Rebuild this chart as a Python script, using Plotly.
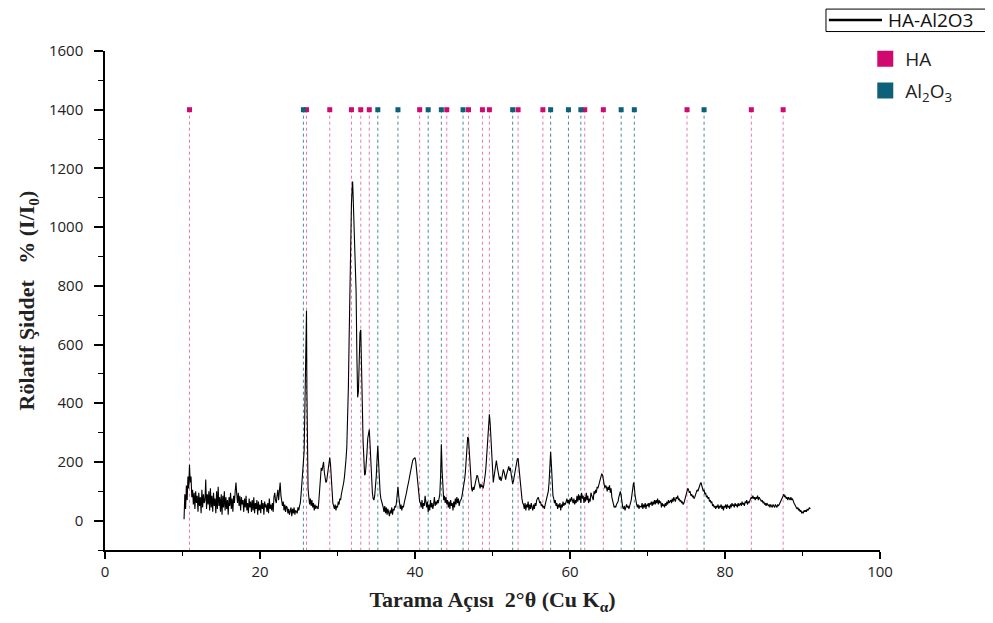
import plotly.graph_objects as go

# XRD pattern, as (2θ, intensity) pairs, by region
region_10_26 = [(10.2,5),(10.3,90),(10.4,40),(10.5,120),(10.6,70),(10.7,150),(10.8,110),(10.9,190),(11.0,130),(11.1,150),(11.2,80),(11.3,105),(11.4,55),(11.5,95),(11.6,40),(11.7,100),(11.8,60),(11.9,85),(12.0,30),(12.1,95),(12.2,50),(12.3,80),(12.4,25),(12.5,105),(12.6,45),(12.7,90),(12.8,60),(12.9,70),(13.0,140),(13.1,40),(13.2,90),(13.3,55),(13.4,100),(13.5,35),(13.6,110),(13.7,45),(13.8,85),(13.9,30),(14.0,95),(14.1,50),(14.2,75),(14.3,25),(14.4,100),(14.5,40),(14.6,115),(14.7,50),(14.8,80),(14.9,30),(15.0,90),(15.1,20),(15.2,85),(15.3,45),(15.4,100),(15.5,35),(15.6,80),(15.7,40),(15.8,70),(15.9,20),(16.0,80),(16.1,50),(16.2,95),(16.3,40),(16.4,75),(16.5,30),(16.6,85),(16.7,60),(16.8,100),(16.9,130),(17.0,90),(17.1,60),(17.2,95),(17.3,50),(17.4,85),(17.5,35),(17.6,80),(17.7,55),(17.8,70),(17.9,30),(18.0,75),(18.1,45),(18.2,85),(18.3,35),(18.4,60),(18.5,25),(18.6,75),(18.7,45),(18.8,65),(18.9,30),(19.0,70),(19.1,35),(19.2,80),(19.3,25),(19.4,60),(19.5,40),(19.6,70),(19.7,20),(19.8,65),(19.9,35),(20.0,55),(20.1,25),(20.2,70),(20.3,40),(20.4,60),(20.5,20),(20.6,65),(20.7,45),(20.8,55),(20.9,30),(21.0,60),(21.1,25),(21.2,75),(21.3,40),(21.4,55),(21.5,35),(21.6,60),(21.7,30),(21.8,80),(21.9,95),(22.0,70),(22.1,60),(22.2,85),(22.3,105),(22.4,70),(22.5,95),(22.6,130),(22.7,85),(22.8,60),(22.9,50),(23.0,65),(23.1,35),(23.2,55),(23.3,30),(23.4,50),(23.5,45),(23.6,25),(23.7,40),(23.8,20),(23.9,35),(24.0,45),(24.1,15),(24.2,40),(24.3,25),(24.4,45),(24.5,20),(24.6,35),(24.7,30),(24.8,25),(24.9,45),(25.0,35),(25.1,50),(25.2,60),(25.3,90),(25.4,140),(25.5,170),(25.6,200),(25.7,240),(25.8,380),(25.9,600),(26.0,715),(26.05,450),(26.1,220),(26.2,110)]

region_26_41 = [(26.3,80),(26.4,55),(26.5,75),(26.6,50),(26.7,70),(26.8,45),(26.9,60),(27.0,35),(27.1,55),(27.2,40),(27.3,50),(27.4,45),(27.5,40),(27.6,70),(27.7,100),(27.8,150),(27.9,180),(28.0,170),(28.1,190),(28.2,200),(28.3,165),(28.4,140),(28.5,130),(28.6,135),(28.7,160),(28.8,185),(28.9,205),(29.0,215),(29.1,190),(29.2,140),(29.3,90),(29.4,60),(29.5,50),(29.6,40),(29.7,55),(29.8,35),(29.9,50),(30.0,45),(30.1,65),(30.2,55),(30.3,75),(30.4,70),(30.5,90),(30.6,100),(30.7,110),(30.8,130),(30.9,150),(31.0,175),(31.1,210),(31.2,250),(31.3,330),(31.4,450),(31.5,620),(31.6,800),(31.7,960),(31.8,1080),(31.9,1140),(31.95,1155),(32.0,1120),(32.1,1040),(32.2,960),(32.3,930),(32.4,780),(32.5,560),(32.6,420),(32.7,440),(32.8,560),(32.9,640),(33.0,650),(33.1,560),(33.2,400),(33.3,270),(33.4,190),(33.5,155),(33.6,160),(33.7,190),(33.8,230),(33.9,280),(34.0,305),(34.1,310),(34.2,260),(34.3,190),(34.4,130),(34.5,95),(34.6,75),(34.7,70),(34.8,85),(34.9,110),(35.0,150),(35.1,210),(35.2,255),(35.3,200),(35.4,130),(35.5,95),(35.6,75),(35.7,60),(35.8,55),(35.9,45),(36.0,30),(36.1,50),(36.2,25),(36.3,45),(36.4,20),(36.5,40),(36.6,30),(36.7,15),(36.8,35),(36.9,25),(37.0,45),(37.1,20),(37.2,40),(37.3,35),(37.4,50),(37.5,45),(37.6,60),(37.7,85),(37.8,115),(37.9,85),(38.0,55),(38.1,40),(38.2,55),(38.3,35),(38.4,50),(38.5,45),(38.6,60),(38.7,70),(38.8,80),(38.9,95),(39.0,110),(39.1,120),(39.2,135),(39.3,150),(39.4,165),(39.5,180),(39.6,195),(39.7,205),(39.8,210),(39.9,215),(40.0,215),(40.1,200),(40.2,170),(40.3,130),(40.4,100),(40.5,80),(40.6,65),(40.7,60),(40.8,45),(40.9,70),(41.0,40)]

region_41_54 = [(41.1,60),(41.2,50),(41.3,85),(41.4,55),(41.5,45),(41.6,65),(41.7,30),(41.8,55),(41.9,35),(42.0,70),(42.1,45),(42.2,60),(42.3,40),(42.4,55),(42.5,80),(42.6,50),(42.7,65),(42.8,55),(42.9,70),(43.0,60),(43.1,75),(43.2,90),(43.3,150),(43.4,260),(43.5,170),(43.6,90),(43.7,70),(43.8,85),(43.9,60),(44.0,80),(44.1,55),(44.2,70),(44.3,45),(44.4,65),(44.5,40),(44.6,70),(44.7,50),(44.8,60),(44.9,35),(45.0,65),(45.1,45),(45.2,75),(45.3,55),(45.4,80),(45.5,60),(45.6,75),(45.7,50),(45.8,65),(45.9,70),(46.0,75),(46.1,90),(46.2,105),(46.3,120),(46.4,140),(46.5,165),(46.6,200),(46.7,250),(46.8,285),(46.9,280),(47.0,230),(47.1,170),(47.2,130),(47.3,110),(47.4,100),(47.5,115),(47.6,105),(47.7,120),(47.8,135),(47.9,145),(48.0,155),(48.1,150),(48.2,135),(48.3,120),(48.4,110),(48.5,125),(48.6,115),(48.7,120),(48.8,110),(48.9,125),(49.0,140),(49.1,165),(49.2,200),(49.3,250),(49.4,300),(49.5,340),(49.6,362),(49.7,330),(49.8,270),(49.9,200),(50.0,150),(50.1,130),(50.2,150),(50.3,175),(50.4,200),(50.5,205),(50.6,185),(50.7,165),(50.8,150),(50.9,140),(51.0,150),(51.1,135),(51.2,145),(51.3,160),(51.4,175),(51.5,165),(51.6,150),(51.7,140),(51.8,155),(51.9,165),(52.0,175),(52.1,185),(52.2,170),(52.3,180),(52.4,160),(52.5,140),(52.6,125),(52.7,135),(52.8,150),(52.9,165),(53.0,185),(53.1,200),(53.2,210),(53.3,212),(53.4,185),(53.5,150),(53.6,115),(53.7,90),(53.8,75),(53.9,60),(54.0,55)]

region_54_69 = [(54.1,40),(54.2,60),(54.3,35),(54.4,55),(54.5,45),(54.6,65),(54.7,35),(54.8,55),(54.9,40),(55.0,60),(55.1,45),(55.2,35),(55.3,55),(55.4,40),(55.5,60),(55.6,50),(55.7,70),(55.8,75),(55.9,80),(56.0,70),(56.1,60),(56.2,65),(56.3,50),(56.4,55),(56.5,45),(56.6,50),(56.7,40),(56.8,55),(56.9,65),(57.0,75),(57.1,85),(57.2,100),(57.3,130),(57.4,180),(57.5,235),(57.6,190),(57.7,120),(57.8,85),(57.9,75),(58.0,60),(58.1,70),(58.2,50),(58.3,60),(58.4,40),(58.5,55),(58.6,45),(58.7,60),(58.8,35),(58.9,55),(59.0,45),(59.1,65),(59.2,50),(59.3,60),(59.4,55),(59.5,65),(59.6,75),(59.7,60),(59.8,70),(59.9,55),(60.0,75),(60.1,65),(60.2,80),(60.3,70),(60.4,60),(60.5,75),(60.6,55),(60.7,70),(60.8,60),(60.9,85),(61.0,65),(61.1,90),(61.2,70),(61.3,85),(61.4,60),(61.5,95),(61.6,75),(61.7,85),(61.8,60),(61.9,80),(62.0,65),(62.1,95),(62.2,70),(62.3,85),(62.4,60),(62.5,75),(62.6,65),(62.7,95),(62.8,85),(62.9,80),(63.0,70),(63.1,100),(63.2,90),(63.3,105),(63.4,95),(63.5,115),(63.6,110),(63.7,120),(63.8,130),(63.9,145),(64.0,150),(64.1,160),(64.2,155),(64.3,140),(64.4,125),(64.5,110),(64.6,120),(64.7,115),(64.8,100),(64.9,115),(65.0,105),(65.1,120),(65.2,95),(65.3,110),(65.4,80),(65.5,65),(65.6,55),(65.7,45),(65.8,50),(65.9,45),(66.0,55),(66.1,60),(66.2,65),(66.3,80),(66.4,95),(66.5,100),(66.6,85),(66.7,60),(66.8,45),(66.9,40),(67.0,50),(67.1,35),(67.2,45),(67.3,55),(67.4,45),(67.5,50),(67.6,40),(67.7,55),(67.8,60),(67.9,70),(68.0,85),(68.1,110),(68.2,130),(68.3,115),(68.4,85),(68.5,65),(68.6,55),(68.7,45),(68.8,55),(68.9,40),(69.0,50)]

region_69_91 = [(69.2,45),(69.3,60),(69.4,40),(69.5,55),(69.6,45),(69.7,60),(69.8,40),(69.9,55),(70.0,50),(70.1,60),(70.2,45),(70.3,60),(70.4,55),(70.5,65),(70.6,50),(70.7,65),(70.8,55),(70.9,70),(71.0,55),(71.1,70),(71.2,60),(71.3,75),(71.4,55),(71.5,70),(71.6,60),(71.7,65),(71.8,45),(71.9,60),(72.0,50),(72.1,55),(72.2,45),(72.3,60),(72.4,50),(72.5,65),(72.6,55),(72.7,70),(72.8,60),(72.9,65),(73.0,70),(73.1,60),(73.2,75),(73.3,65),(73.4,80),(73.5,70),(73.6,65),(73.7,80),(73.8,75),(73.9,85),(74.0,70),(74.1,75),(74.2,65),(74.3,70),(74.4,60),(74.5,65),(74.6,55),(74.7,60),(74.8,70),(74.9,80),(75.0,90),(75.1,100),(75.2,110),(75.3,105),(75.4,95),(75.5,100),(75.6,85),(75.7,90),(75.8,80),(75.9,85),(76.0,75),(76.1,80),(76.2,90),(76.3,95),(76.4,105),(76.5,100),(76.6,110),(76.7,120),(76.8,125),(76.9,130),(77.0,120),(77.1,110),(77.2,100),(77.3,105),(77.4,90),(77.5,95),(77.6,80),(77.7,85),(77.8,75),(77.9,80),(78.0,65),(78.1,70),(78.2,60),(78.3,65),(78.4,50),(78.5,55),(78.6,45),(78.7,50),(78.8,40),(78.9,50),(79.0,45),(79.1,55),(79.2,40),(79.3,50),(79.4,45),(79.5,55),(79.6,40),(79.7,50),(79.8,35),(79.9,50),(80.0,45),(80.1,55),(80.2,40),(80.3,55),(80.4,45),(80.5,50),(80.6,40),(80.7,55),(80.8,45),(80.9,60),(81.0,50),(81.1,55),(81.2,45),(81.3,60),(81.4,50),(81.5,55),(81.6,45),(81.7,60),(81.8,50),(81.9,55),(82.0,60),(82.1,50),(82.2,65),(82.3,55),(82.4,60),(82.5,50),(82.6,65),(82.7,60),(82.8,70),(82.9,55),(83.0,65),(83.1,60),(83.2,70),(83.3,75),(83.4,80),(83.5,75),(83.6,85),(83.7,75),(83.8,80),(83.9,70),(84.0,80),(84.1,75),(84.2,85),(84.3,70),(84.4,80),(84.5,75),(84.6,70),(84.7,65),(84.8,70),(84.9,60),(85.0,65),(85.1,55),(85.2,60),(85.3,50),(85.4,60),(85.5,55),(85.6,50),(85.7,55),(85.8,45),(85.9,55),(86.0,50),(86.1,45),(86.2,55),(86.3,50),(86.4,45),(86.5,55),(86.6,50),(86.7,45),(86.8,55),(86.9,50),(87.0,55),(87.1,60),(87.2,65),(87.3,70),(87.4,80),(87.5,85),(87.6,90),(87.7,80),(87.8,85),(87.9,75),(88.0,80),(88.1,70),(88.2,80),(88.3,75),(88.4,70),(88.5,80),(88.6,70),(88.7,75),(88.8,65),(88.9,60),(89.0,55),(89.1,50),(89.2,45),(89.3,40),(89.4,45),(89.5,35),(89.6,40),(89.7,30),(89.8,35),(89.9,25),(90.0,30),(90.1,25),(90.2,35),(90.3,30),(90.4,35),(90.5,30),(90.6,40),(90.7,35),(90.8,40),(90.9,45),(91.0,40)]

pattern = region_10_26 + region_26_41 + region_41_54 + region_54_69 + region_69_91
two_theta = [p[0] for p in pattern]
intensity = [p[1] for p in pattern]

# Reference peak positions (2θ)
ha_peaks = [10.9, 26.0, 29.0, 31.8, 33.0, 34.1, 40.6, 44.1, 46.9, 48.7, 49.6, 53.3, 56.5, 61.9, 64.3, 75.1, 83.4, 87.5]
al2o3_peaks = [25.6, 35.2, 37.8, 41.7, 43.4, 46.2, 52.6, 57.5, 59.8, 61.4, 66.6, 68.3, 77.3]
marker_level = 1400
axis_floor = -100
sample_name = "HA-Al2O3"

PINK = "#d1096f"
TEAL = "#0d6079"
PINK_LINE = "rgba(209,9,111,0.55)"
TEAL_LINE = "rgba(13,96,121,0.75)"


def drop_lines(peaks):
    xs, ys = [], []
    for p in peaks:
        xs += [p, p, None]
        ys += [marker_level, axis_floor, None]
    return xs, ys


fig = go.Figure()

for peaks, lc in ((ha_peaks, PINK_LINE), (al2o3_peaks, TEAL_LINE)):
    xs, ys = drop_lines(peaks)
    fig.add_trace(go.Scatter(x=xs, y=ys, mode="lines", showlegend=False,
                             line=dict(color=lc, width=1, dash="3px,3px"),
                             hoverinfo="skip"))

fig.add_trace(go.Scatter(x=two_theta, y=intensity, mode="lines", name=sample_name,
                         line=dict(color="black", width=1.1), showlegend=False))

for peaks, mc in ((ha_peaks, PINK), (al2o3_peaks, TEAL)):
    fig.add_trace(go.Scatter(x=peaks, y=[marker_level] * len(peaks), mode="markers",
                             showlegend=False,
                             marker=dict(symbol="square", size=5, color=mc)))

# phase legend entries
fig.add_trace(go.Scatter(x=[None], y=[None], mode="markers", name="HA", legendgroup="ha",
                         marker=dict(symbol="square", size=17, color=PINK)))
fig.add_trace(go.Scatter(x=[None], y=[None], mode="markers", name="Al<sub>2</sub>O<sub>3</sub>",
                         legendgroup="al",
                         marker=dict(symbol="square", size=17, color=TEAL)))

# boxed sample key at top right (paper coordinates)
fig.add_shape(type="rect", xref="paper", yref="paper", x0=0.9303, x1=1.138, y0=1.039, y1=1.084,
              line=dict(color="black", width=1), fillcolor="white")
fig.add_shape(type="line", xref="paper", yref="paper", x0=0.934, x1=1.0026, y0=1.062, y1=1.062,
              line=dict(color="black", width=2.5))
fig.add_annotation(text=sample_name, xref="paper", yref="paper", x=1.0077, y=1.062,
                   xanchor="left", yanchor="middle", showarrow=False,
                   font=dict(family="Open Sans, sans-serif", size=19, color="#111"))

tick_font = dict(family="Open Sans, Noto Sans, sans-serif", size=15, color="#222")
title_font = dict(family="Liberation Serif, Times New Roman, serif", size=22, color="#222")

fig.update_layout(
    width=993, height=623,
    margin=dict(l=97, r=121, t=43, b=81, autoexpand=False),
    paper_bgcolor="white", plot_bgcolor="white",
    xaxis=dict(range=[0, 100], tickvals=[0, 20, 40, 60, 80, 100], showgrid=False, zeroline=False,
               showline=True, linecolor="black", linewidth=1.5, ticks="outside", ticklen=7,
               tickwidth=1.5, tickcolor="black", tickfont=tick_font, automargin=False,
               minor=dict(dtick=10, ticks="outside", ticklen=4, tickcolor="black", tickwidth=1.2),
               title=dict(text="<b>Tarama Açısı  2°θ (Cu K<sub>α</sub>)</b>", font=title_font, standoff=12)),
    yaxis=dict(range=[-100, 1600], tickvals=[0, 200, 400, 600, 800, 1000, 1200, 1400, 1600],
               showgrid=False, zeroline=False, automargin=False,
               showline=True, linecolor="black", linewidth=1.5, ticks="outside", ticklen=9,
               tickwidth=1.5, tickcolor="black", tickfont=tick_font, ticklabelstandoff=8,
               minor=dict(dtick=100, ticks="outside", ticklen=5, tickcolor="black", tickwidth=1.2),
               title=dict(text="<b>Rölatif Şiddet&nbsp;&nbsp;&nbsp;% (I/I<sub>0</sub>)</b>",
                          font=title_font, standoff=8)),
    legend=dict(x=0.981, y=1.022, xanchor="left", yanchor="top", bgcolor="rgba(0,0,0,0)",
                borderwidth=0, font=dict(family="Open Sans, sans-serif", size=19, color="#222"),
                itemsizing="trace", tracegroupgap=4),
    showlegend=True,
)

fig.write_html("out.html")
